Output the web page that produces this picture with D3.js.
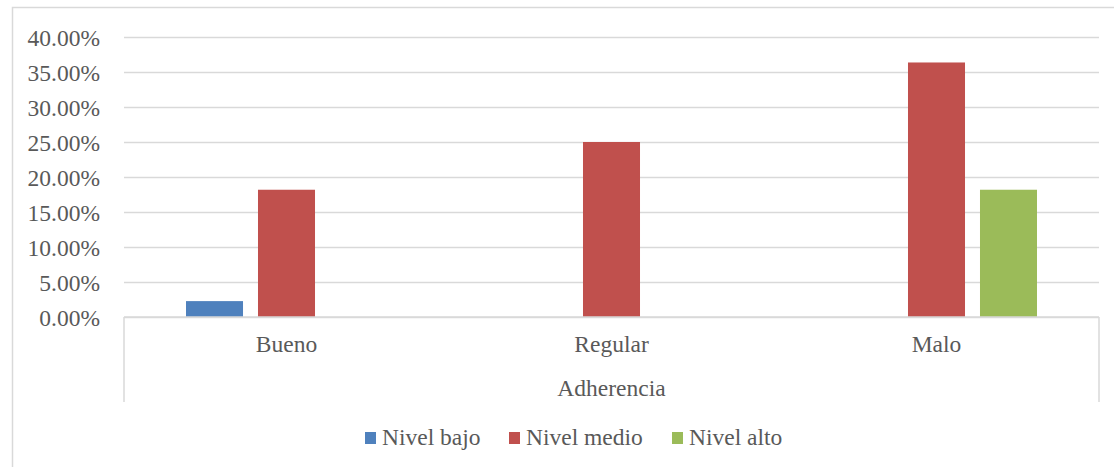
<!DOCTYPE html>
<html>
<head>
<meta charset="utf-8">
<script src="https://cdn.jsdelivr.net/npm/d3@7"></script>
<style>
  html, body { margin: 0; padding: 0; background: #fff; }
  svg { display: block; }
  svg text { font-family: "Liberation Serif", "Times New Roman", serif !important; fill: #595959; }
</style>
</head>
<body>
<svg id="chart" width="1114" height="467"></svg>
<script>
const categories = ["Bueno", "Regular", "Malo"];
const seriesNames = ["Nivel bajo", "Nivel medio", "Nivel alto"];
const nivelBajo = [0.0227, 0, 0];
const nivelMedio = [0.1818, 0.25, 0.3636];
const nivelAlto = [0, 0, 0.1818];
const yTicks = [0, 0.05, 0.10, 0.15, 0.20, 0.25, 0.30, 0.35, 0.40];
const axisTitle = "Adherencia";
const colors = ["#4F81BD", "#C0504D", "#9BBB59"];

(function () {
const seriesValues = [nivelBajo, nivelMedio, nivelAlto];
const svg = d3.select("#chart");
const fs = "23.5px";
const ff = "Liberation Serif";

// chart border
svg.append("rect").attr("x", 12.5).attr("y", 7.5).attr("width", 1130).attr("height", 500)
  .attr("fill", "none").attr("stroke", "#d9d9d9").attr("stroke-width", 1.5);

const pLeft = 124, pRight = 1099, pTop = 37, pBottom = 317;
const y = d3.scaleLinear().domain([0, 0.4]).range([pBottom, pTop]);
const x0 = d3.scaleBand().domain(categories).range([pLeft, pRight]).padding(0);
const groupW = 201;
const off = (x0.bandwidth() - groupW) / 2;
const x1 = d3.scaleBand().domain(seriesNames).range([off, off + groupW]).paddingInner(0.208).paddingOuter(0);

// y axis with gridlines
const yAxis = d3.axisLeft(y).tickValues(yTicks).tickFormat(d3.format(".2%"))
  .tickSizeInner(-(pRight - pLeft)).tickSizeOuter(0).tickPadding(24);
const gy = svg.append("g").attr("transform", `translate(${pLeft},0)`).call(yAxis)
  .attr("font-family", ff).attr("font-size", fs);
gy.select(".domain").remove();
gy.selectAll(".tick line").attr("stroke", "#d9d9d9").attr("stroke-width", 1.5);
gy.selectAll(".tick text").attr("dy", null).attr("y", 8).attr("fill", "#595959");

// bars
const data = [];
categories.forEach((c, i) => seriesNames.forEach((s, j) => data.push({c, s, j, v: seriesValues[j][i]})));
svg.append("g").selectAll("rect").data(data.filter(d => d.v > 0)).join("rect")
  .attr("x", d => x0(d.c) + x1(d.s))
  .attr("width", x1.bandwidth())
  .attr("y", d => y(d.v))
  .attr("height", d => y(0) - y(d.v))
  .attr("fill", d => colors[d.j]);

// category axis
const xAxis = d3.axisBottom(x0).tickSize(0).tickPadding(0);
const gx = svg.append("g").attr("transform", `translate(0,${pBottom})`).call(xAxis)
  .attr("font-family", ff).attr("font-size", fs);
gx.select(".domain").remove();
gx.selectAll(".tick text").attr("dy", null).attr("y", 35).attr("fill", "#595959");

// axis box lines
svg.append("line").attr("x1", pLeft).attr("x2", pRight).attr("y1", y(0)).attr("y2", y(0))
  .attr("stroke", "#d9d9d9").attr("stroke-width", 1.5);
[pLeft, pRight].forEach(xx => svg.append("line").attr("x1", xx).attr("x2", xx)
  .attr("y1", y(0)).attr("y2", 402).attr("stroke", "#d9d9d9").attr("stroke-width", 1.5));

svg.append("text").attr("x", (pLeft + pRight) / 2).attr("y", 396).attr("text-anchor", "middle")
  .attr("font-family", ff).attr("font-size", fs).text(axisTitle);

// legend
const legendX = [365, 509, 672];
const lg = svg.append("g").attr("font-family", ff).attr("font-size", fs)
  .selectAll("g").data(seriesNames).join("g")
  .attr("transform", (d, i) => `translate(${legendX[i]},0)`);
lg.append("rect").attr("x", 0).attr("y", 432).attr("width", 11).attr("height", 12)
  .attr("fill", (d, i) => colors[i]);
lg.append("text").attr("x", 17).attr("y", 445).text(d => d);
})();
</script>
</body>
</html>
